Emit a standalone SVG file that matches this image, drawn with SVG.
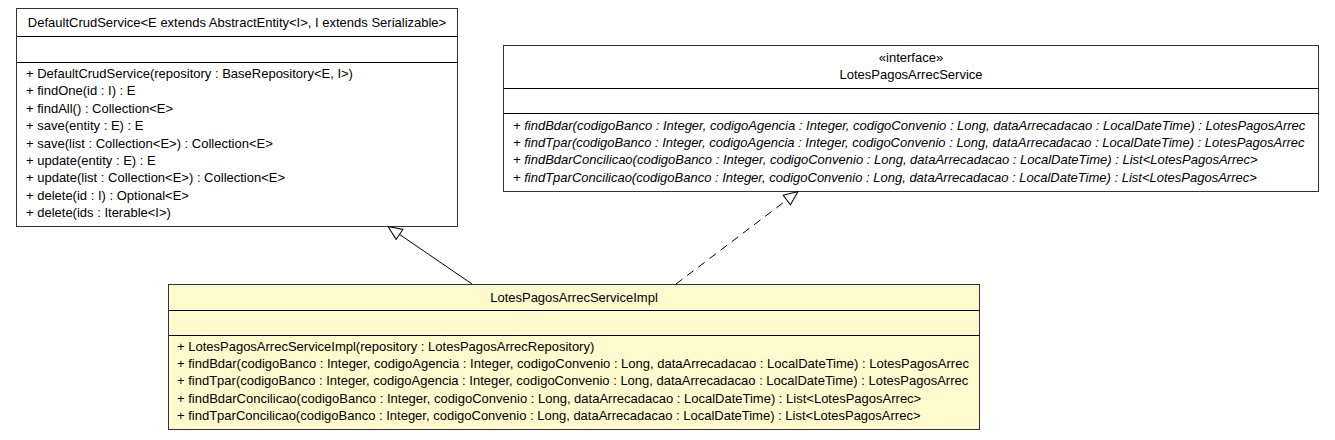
<svg xmlns="http://www.w3.org/2000/svg" width="1335" height="440" viewBox="0 0 1335 440">
<style>
  text { font-family: "Liberation Sans", Arial, sans-serif; font-size: 13px; fill: #000; }
  .c { text-anchor: middle; }
  .i { font-style: italic; }
  .box { stroke: #333; stroke-width: 1; shape-rendering: crispEdges; }
  .sep { stroke: #000; stroke-width: 1; shape-rendering: crispEdges; }
  .edge { fill: none; stroke: #000; stroke-width: 1; }
  .dash { stroke-dasharray: 8 6; }
</style>
<defs>
  <marker id="hollow" viewBox="0 0 16 14" refX="15" refY="7" markerWidth="16" markerHeight="14" markerUnits="userSpaceOnUse" orient="auto">
    <path d="M1,1 L15,7 L1,13 Z" fill="#fff" stroke="#000" stroke-width="1" stroke-dasharray="none"/>
  </marker>
</defs>
<rect width="1335" height="440" fill="#fff"/>

<g id="DefaultCrudService">
  <rect class="box" x="16.5" y="8.5" width="441" height="218" fill="#fff"/>
  <line class="sep" x1="16.5" y1="36.5" x2="457.5" y2="36.5"/>
  <line class="sep" x1="16.5" y1="62.5" x2="457.5" y2="62.5"/>
  <text class="c" x="237" y="26.5">DefaultCrudService&lt;E extends AbstractEntity&lt;I&gt;, I extends Serializable&gt;</text>
  <text x="26" y="78">+ DefaultCrudService(repository : BaseRepository&lt;E, I&gt;)</text>
  <text x="26" y="95.4">+ findOne(id : I) : E</text>
  <text x="26" y="112.8">+ findAll() : Collection&lt;E&gt;</text>
  <text x="26" y="130.2">+ save(entity : E) : E</text>
  <text x="26" y="147.6">+ save(list : Collection&lt;E&gt;) : Collection&lt;E&gt;</text>
  <text x="26" y="165">+ update(entity : E) : E</text>
  <text x="26" y="182.4">+ update(list : Collection&lt;E&gt;) : Collection&lt;E&gt;</text>
  <text x="26" y="199.8">+ delete(id : I) : Optional&lt;E&gt;</text>
  <text x="26" y="217.2">+ delete(ids : Iterable&lt;I&gt;)</text>
</g>

<g id="LotesPagosArrecService">
  <rect class="box" x="503.5" y="45.5" width="815" height="146" fill="#fff"/>
  <line class="sep" x1="503.5" y1="88.5" x2="1318.5" y2="88.5"/>
  <line class="sep" x1="503.5" y1="113.5" x2="1318.5" y2="113.5"/>
  <text class="c" x="911" y="61.5">«interface»</text>
  <text class="c" x="911" y="78.5">LotesPagosArrecService</text>
  <text class="i" x="513" y="129.5">+ findBdar(codigoBanco : Integer, codigoAgencia : Integer, codigoConvenio : Long, dataArrecadacao : LocalDateTime) : LotesPagosArrec</text>
  <text class="i" x="513" y="146.9">+ findTpar(codigoBanco : Integer, codigoAgencia : Integer, codigoConvenio : Long, dataArrecadacao : LocalDateTime) : LotesPagosArrec</text>
  <text class="i" x="513" y="164.3">+ findBdarConcilicao(codigoBanco : Integer, codigoConvenio : Long, dataArrecadacao : LocalDateTime) : List&lt;LotesPagosArrec&gt;</text>
  <text class="i" x="513" y="181.7">+ findTparConcilicao(codigoBanco : Integer, codigoConvenio : Long, dataArrecadacao : LocalDateTime) : List&lt;LotesPagosArrec&gt;</text>
</g>

<g id="LotesPagosArrecServiceImpl">
  <rect class="box" x="168.5" y="284.5" width="811" height="145" fill="#fffacd"/>
  <line class="sep" x1="168.5" y1="310.5" x2="979.5" y2="310.5"/>
  <line class="sep" x1="168.5" y1="335.5" x2="979.5" y2="335.5"/>
  <text class="c" x="574" y="301.5">LotesPagosArrecServiceImpl</text>
  <text x="177" y="350.5">+ LotesPagosArrecServiceImpl(repository : LotesPagosArrecRepository)</text>
  <text x="177" y="367.9">+ findBdar(codigoBanco : Integer, codigoAgencia : Integer, codigoConvenio : Long, dataArrecadacao : LocalDateTime) : LotesPagosArrec</text>
  <text x="177" y="385.3">+ findTpar(codigoBanco : Integer, codigoAgencia : Integer, codigoConvenio : Long, dataArrecadacao : LocalDateTime) : LotesPagosArrec</text>
  <text x="177" y="402.7">+ findBdarConcilicao(codigoBanco : Integer, codigoConvenio : Long, dataArrecadacao : LocalDateTime) : List&lt;LotesPagosArrec&gt;</text>
  <text x="177" y="420.1">+ findTparConcilicao(codigoBanco : Integer, codigoConvenio : Long, dataArrecadacao : LocalDateTime) : List&lt;LotesPagosArrec&gt;</text>
</g>

<g id="connectors">
  <path class="edge" d="M472,284 L388,226.5" marker-end="url(#hollow)"/>
  <path class="edge dash" d="M676,284 L798,191.5" marker-end="url(#hollow)"/>
</g>
</svg>
